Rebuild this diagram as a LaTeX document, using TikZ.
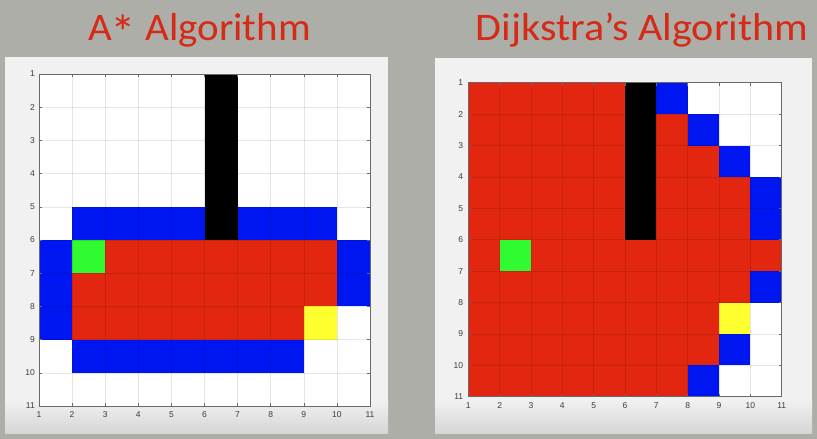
\documentclass[tikz,border=0pt]{standalone}
\usepackage{fontspec}
\setmainfont{Liberation Sans}
\newfontfamily\titlefont{Carlito}
\definecolor{bg}{RGB}{174,174,168}
\definecolor{panel}{RGB}{241,241,241}
\definecolor{panelbot}{RGB}{214,214,214}
\definecolor{titlered}{RGB}{212,42,22}
\definecolor{cred}{RGB}{226,38,16}
\definecolor{cblue}{RGB}{0,22,240}
\definecolor{cgreen}{RGB}{48,250,48}
\definecolor{cyellow}{RGB}{255,255,48}
\definecolor{axisgray}{RGB}{105,105,105}
\definecolor{labelgray}{RGB}{60,60,60}
\tikzset{
  title/.style={font=\titlefont\fontsize{39}{39}\selectfont, text=titlered, anchor=base, inner sep=0pt},
  ticklab/.style={font=\fontsize{8.5}{9}\selectfont, text=labelgray, inner sep=0pt},
  gridline/.style={draw=black, opacity=0.1, line width=0.6pt},
  axisbox/.style={draw=axisgray, line width=0.8pt},
  tickmark/.style={draw=axisgray, line width=0.6pt},
}
\newcommand{\axesdecor}{%
  \foreach \k in {1,...,9} {
    \draw[gridline] (\k,0) -- (\k,10);
    \draw[gridline] (0,\k) -- (10,\k);
  }
  \foreach \k in {0,...,10} {
    \draw[tickmark] (\k,0) -- ++(0,0.09);
    \draw[tickmark] (\k,10) -- ++(0,-0.09);
    \draw[tickmark] (0,\k) -- ++(0.09,0);
    \draw[tickmark] (10,\k) -- ++(-0.09,0);
  }
  \draw[axisbox] (0,0) rectangle (10,10);
}
\newcommand{\bigast}{\kern-0.03em\raisebox{-0.24em}{\scalebox{1.25}{*}}}
\begin{document}
\begin{tikzpicture}[x=1pt,y=-1pt]
\fill[bg] (0,0) rectangle (817,439);
\useasboundingbox (0,0) rectangle (817,439);
% titles
\node[title] (t1) at (199.5,40) {\scalebox{1.05}[1]{A\bigast{} Algorithm}};
\node[title] (t2) at (642,40) {\scalebox{1.08}[1]{Dijkstra’s Algorithm}};
% panels
\fill[panel] (5,57) rectangle (388,433);
\shade[top color=panel, bottom color=panelbot] (5,400) rectangle (388,433);
\fill[panel] (435,58) rectangle (812,433);
\shade[top color=panel, bottom color=panelbot] (435,400) rectangle (812,433);
% ---------- A* grid ----------
\begin{scope}[shift={(39,74)}, x=33.1pt, y=-33.2pt]
  \fill[white] (0,0) rectangle (10,10);
  \fill[black] (5,0) rectangle (6,5);
  \fill[cblue] (1,4) rectangle (5,5);
  \fill[cblue] (6,4) rectangle (9,5);
  \fill[cblue] (0,5) rectangle (1,8);
  \fill[cblue] (9,5) rectangle (10,7);
  \fill[cblue] (1,8) rectangle (8,9);
  \fill[cred] (1,5) rectangle (9,7);
  \fill[cred] (1,7) rectangle (8,8);
  \fill[cgreen] (1,5) rectangle (2,6);
  \fill[cyellow] (8,7) rectangle (9,8);
  \axesdecor
  \foreach \k in {1,...,11} {
    \node[ticklab, anchor=east] (ly\k) at ([xshift=-4pt]0,\k-1) {\k};
    \node[ticklab] (lx\k) at ([yshift=-9pt]\k-1,10) {\k};
  }
\end{scope}
% ---------- Dijkstra grid ----------
\begin{scope}[shift={(468.3,82.7)}, x=31.34pt, y=-31.4pt]
  \fill[cred] (0,0) rectangle (10,10);
  \fill[white] (7,0) rectangle (10,1);
  \fill[white] (8,1) rectangle (10,2);
  \fill[white] (9,2) rectangle (10,3);
  \fill[white] (9,7) rectangle (10,9);
  \fill[white] (8,9) rectangle (10,10);
  \fill[cblue] (6,0) rectangle (7,1);
  \fill[cblue] (7,1) rectangle (8,2);
  \fill[cblue] (8,2) rectangle (9,3);
  \fill[cblue] (9,3) rectangle (10,5);
  \fill[cblue] (9,6) rectangle (10,7);
  \fill[cblue] (8,8) rectangle (9,9);
  \fill[cblue] (7,9) rectangle (8,10);
  \fill[black] (5,0) rectangle (6,5);
  \fill[cgreen] (1,5) rectangle (2,6);
  \fill[cyellow] (8,7) rectangle (9,8);
  \axesdecor
  \foreach \k in {1,...,11} {
    \node[ticklab, anchor=east] (ry\k) at ([xshift=-5pt]0,\k-1) {\k};
    \node[ticklab] (rx\k) at ([yshift=-9pt]\k-1,10) {\k};
  }
\end{scope}
\end{tikzpicture}
\end{document}
